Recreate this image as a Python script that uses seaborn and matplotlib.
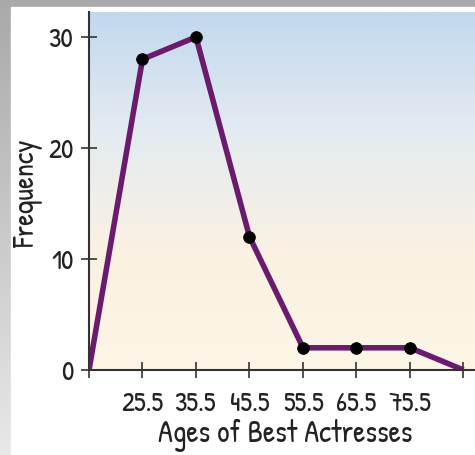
import numpy as np
import pandas as pd
import matplotlib
matplotlib.use("Agg")
import matplotlib.pyplot as plt
import seaborn as sns
from matplotlib.colors import LinearSegmentedColormap

# Data
midpoints = [15.5, 25.5, 35.5, 45.5, 55.5, 65.5, 75.5, 85.5]
frequency = [0, 28, 30, 12, 2, 2, 2, 0]
marked_points = [25.5, 35.5, 45.5, 55.5, 65.5, 75.5]
x_tick_labels = ["", "25.5", "35.5", "45.5", "55.5", "65.5", "75.5", ""]
y_ticks = [0, 10, 20, 30]

df = pd.DataFrame({"Age": midpoints, "Frequency": frequency})
dfm = df[df["Age"].isin(marked_points)]

sns.set_theme(style="white")
plt.rcParams["font.family"] = ["Patrick Hand", "Comic Neue", "DejaVu Sans"]

W, H = 475, 455
fig = plt.figure(figsize=(W / 100, H / 100), dpi=100)

# background frame (gray gradient) and white panel
bg = fig.add_axes([0, 0, 1, 1], zorder=-10)
bg.axis("off")
grad = np.linspace(0, 1, 256).reshape(-1, 1)
gcmap = LinearSegmentedColormap.from_list("g", ["#a9a9a9", "#e8e8e8"])
bg.imshow(grad, aspect="auto", cmap=gcmap, extent=[0, 1, 0, 1], origin="upper")
bg.add_patch(plt.Rectangle((11 / W, 0), 1, (H - 7) / H, color="white", transform=bg.transAxes))
bg.set_xlim(0, 1)
bg.set_ylim(0, 1)

ax = fig.add_axes([89 / W, 1 - 370 / H, 1 - 89 / W, (370 - 12) / H])
ax.set_xlim(15.5, 15.5 + (475 - 89) / 53.5 * 10)
ax.set_ylim(0, 30 + (37 - 12) / 11.1)

# gradient plot area
pcmap = LinearSegmentedColormap.from_list("p", ["#c2d8ee", "#e4ebf1", "#faf1e2", "#fdf5e5"])
ax.imshow(np.linspace(0, 1, 256).reshape(-1, 1), aspect="auto", cmap=pcmap,
          extent=[0, 1, 0, 1], transform=ax.transAxes, origin="upper", zorder=0)

sns.lineplot(data=df, x="Age", y="Frequency", ax=ax, color="#6a1b6e", linewidth=4.0,
             zorder=3, solid_capstyle="butt")
sns.scatterplot(data=dfm, x="Age", y="Frequency", ax=ax, color="black", s=70,
                edgecolor="black", zorder=4, clip_on=False)

for s in ["top", "right"]:
    ax.spines[s].set_visible(False)
for s in ["left", "bottom"]:
    ax.spines[s].set_color("#333333")
    ax.spines[s].set_linewidth(1.5)
    ax.spines[s].set_zorder(5)

ax.set_xticks(midpoints)
ax.set_xticklabels(x_tick_labels)
ax.set_yticks(y_ticks)
ax.tick_params(axis="both", direction="inout", length=12, width=1.2, color="#333333",
               labelsize=20, labelcolor="#222222", bottom=True, left=True)
ax.tick_params(axis="x", pad=9)
ax.tick_params(axis="y", pad=5)
ax.set_xlabel("Ages of Best Actresses", fontsize=22, color="#222222", va="center")
ax.set_ylabel("Frequency", fontsize=21, color="#222222", va="center")
ax.xaxis.set_label_coords((285 - 89) / 386, (370 - 436) / 358)
ax.yaxis.set_label_coords((28 - 89) / 386, (370 - 193) / 358)

fig.savefig("out.png", dpi=100)
